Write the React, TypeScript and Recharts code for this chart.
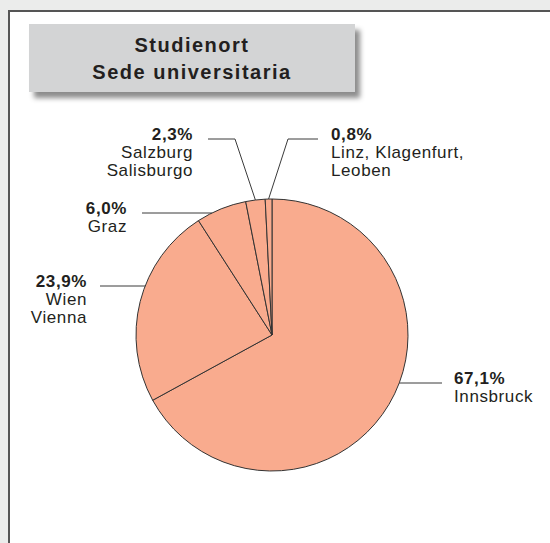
import { PieChart, Pie, Cell } from 'recharts'

// Studienort / Sede universitaria
const places = ['Innsbruck', 'Wien', 'Graz', 'Salzburg', 'Linz']
const shares = [67.1, 23.9, 6.0, 2.3, 0.8]
const labelLines: string[][] = [
  ['Innsbruck'],
  ['Wien', 'Vienna'],
  ['Graz'],
  ['Salzburg', 'Salisburgo'],
  ['Linz, Klagenfurt,', 'Leoben'],
]

const data = places.map((name, i) => ({ name, value: shares[i] }))

// label layout, offsets from pie centre
type Layout =
  | { kind: 'h'; side: 1 | -1; y: number; end: number; tx: number }
  | { kind: 'e'; side: 1 | -1; ex: number; ey: number; end: number; tx: number }

const layout: Layout[] = [
  { kind: 'h', side: 1, y: 48, end: 170, tx: 182 },
  { kind: 'h', side: -1, y: -49, end: -172, tx: -185 },
  { kind: 'h', side: -1, y: -122, end: -130, tx: -145 },
  { kind: 'e', side: -1, ex: -37, ey: -196, end: -64, tx: -79 },
  { kind: 'e', side: 1, ex: 16, ey: -196, end: 46, tx: 59 },
]

const FONT = '"Liberation Sans", Arial, Helvetica, sans-serif'
const INK = '#231f20'
const LINE = '#3a3a3a'
const FILL = '#f9ab8e'
const RAD = Math.PI / 180
const LH = 18

const fmt = (v: number) => `${v.toFixed(1).replace('.', ',')}%`

// eslint-disable-next-line @typescript-eslint/no-explicit-any
function renderLabel(props: any) {
  const { cx, cy, midAngle, outerRadius, index, value } = props
  const l = layout[index]
  let pts: number[][]
  let baseY: number
  if (l.kind === 'h') {
    const yy = cy + l.y
    const xx = cx + l.side * Math.sqrt(outerRadius * outerRadius - l.y * l.y)
    pts = [[xx, yy], [cx + l.end, yy]]
    baseY = yy + 1
  } else {
    const sx = cx + outerRadius * Math.cos(-midAngle * RAD)
    const sy = cy + outerRadius * Math.sin(-midAngle * RAD)
    pts = [[sx, sy], [cx + l.ex, cy + l.ey], [cx + l.end, cy + l.ey]]
    baseY = cy + l.ey + 1
  }
  const anchor = l.side === 1 ? 'start' : 'end'
  const tx = cx + l.tx
  return (
    <g key={`lbl-${index}`}>
      <polyline
        points={pts.map((p) => p.join(',')).join(' ')}
        fill="none"
        stroke={LINE}
        strokeWidth={1}
      />
      <text
        x={tx}
        y={baseY}
        textAnchor={anchor}
        fontFamily={FONT}
        fontSize={17}
        letterSpacing={0.6}
        fill={INK}
      >
        <tspan x={tx} fontWeight="bold">{fmt(value)}</tspan>
        {labelLines[index].map((t, k) => (
          <tspan key={k} x={tx} dy={LH}>{t}</tspan>
        ))}
      </text>
    </g>
  )
}

export default function App() {
  return (
    <div
      style={{
        position: 'absolute',
        left: 0,
        top: 0,
        width: 550,
        height: 543,
        overflow: 'hidden',
        background: '#ebeceb',
      }}
    >
      <div
        style={{
          position: 'absolute',
          left: 8,
          top: 10,
          width: 560,
          height: 560,
          background: '#fff',
          borderLeft: '2px solid #555',
          borderTop: '2px solid #555',
        }}
      />
      <div
        style={{
          position: 'absolute',
          left: 29,
          top: 24,
          width: 326,
          height: 68,
          background: '#d3d4d5',
          boxShadow: '5px 6px 5px rgba(0,0,0,0.45)',
          fontFamily: FONT,
          fontWeight: 'bold',
          fontSize: 20,
          letterSpacing: 1.5,
          color: INK,
          textAlign: 'center',
          lineHeight: '27px',
          paddingTop: 8,
          boxSizing: 'border-box',
        }}
      >
        <div>Studienort</div>
        <div>Sede universitaria</div>
      </div>
      <div style={{ position: 'absolute', left: 0, top: 0 }}>
        <PieChart width={550} height={543} margin={{ top: 0, right: 0, bottom: 0, left: 0 }}>
          <Pie
            data={data}
            dataKey="value"
            nameKey="name"
            cx={272}
            cy={335}
            outerRadius={136}
            startAngle={90}
            endAngle={-270}
            stroke="#333"
            strokeWidth={1}
            label={renderLabel}
            labelLine={false}
            isAnimationActive={false}
          >
            {data.map((d) => (
              <Cell key={d.name} fill={FILL} />
            ))}
          </Pie>
        </PieChart>
      </div>
    </div>
  )
}
